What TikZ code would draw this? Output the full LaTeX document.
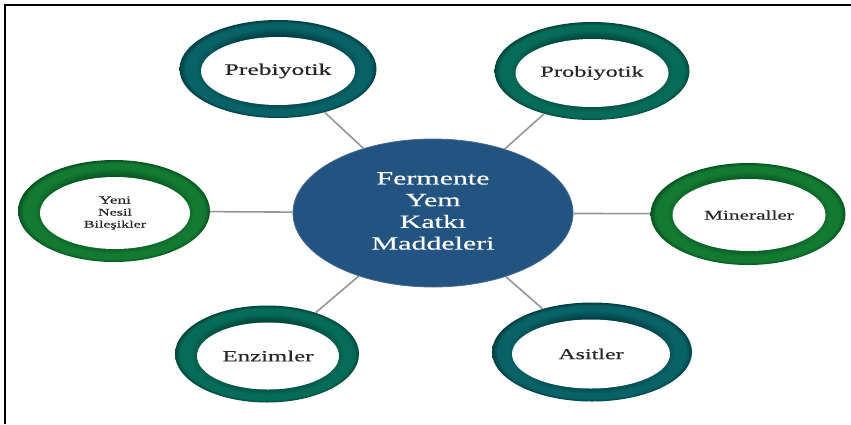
\documentclass[tikz,border=0pt]{standalone}
\usepackage{fontspec}
\setmainfont{Liberation Serif}
\newfontfamily\wideserif[FakeStretch=1.6,FakeBold=0.5]{Liberation Serif}
\usetikzlibrary{shapes.geometric}

\definecolor{hubblue}{RGB}{35,83,128}
\definecolor{hubedge}{RGB}{70,105,145}
\definecolor{linkgray}{RGB}{150,150,150}

% ring palettes: middle tone and edge tone
\definecolor{tealmid}{RGB}{8,98,102}
\definecolor{tealedge}{RGB}{0,62,68}
\definecolor{seamid}{RGB}{6,108,88}
\definecolor{seaedge}{RGB}{0,70,58}
\definecolor{grnmid}{RGB}{20,122,50}
\definecolor{grnedge}{RGB}{4,84,32}

\colorlet{ringmid}{tealmid}
\colorlet{ringedge}{tealedge}
\pgfdeclareradialshading[ringmid,ringedge]{ringshade}{\pgfpoint{0bp}{0bp}}{%
  color(0bp)=(ringedge); color(17bp)=(ringedge); color(21bp)=(ringmid);
  color(23.5bp)=(ringmid); color(25bp)=(ringedge); color(50bp)=(ringedge)}

\tikzset{
  ringpalette/.code 2 args={\colorlet{ringmid}{#1}\colorlet{ringedge}{#2}},
  ring/.style={ellipse, inner sep=0pt, shading=ringshade},
  hole/.style={ellipse, inner sep=0pt, fill=white, align=center,
    text=black!85, font=\wideserif},
  hub/.style={ellipse, inner sep=0pt, fill=hubblue, draw=hubedge,
    line width=0.8pt, minimum width=280pt, minimum height=148pt,
    text=white, align=center},
  link/.style={draw=linkgray, line width=1.6pt},
}

\begin{document}
\begin{tikzpicture}[x=1pt,y=-1pt]
  \useasboundingbox (0,0) rectangle (851,424);
  \fill[white] (0,0) rectangle (851,424);

  % frame on the top and left edges
  \draw[line width=2pt] (5,424) -- (5,5) -- (851,5);

  % central topic
  \node[hub] (hub) at (433,213) {};
  \node[text=white, align=center, font=\wideserif\fontsize{18.7}{21.7}\selectfont]
    (hubtext) at (433,211) {Fermente\\Yem\\Katkı\\Maddeleri};

  % outer rings
  \node[ring, ringpalette={tealmid}{tealedge}, minimum width=197pt, minimum height=98pt] (pre) at (278,69) {};
  \node[ring, ringpalette={seamid}{seaedge}, minimum width=195pt, minimum height=98pt] (pro) at (592,71) {};
  \node[ring, ringpalette={grnmid}{grnedge}, minimum width=192pt, minimum height=102pt] (yeni) at (114,211) {};
  \node[ring, ringpalette={grnmid}{grnedge}, minimum width=195pt, minimum height=102pt] (min) at (748,214) {};
  \node[ring, ringpalette={seamid}{seaedge}, minimum width=184pt, minimum height=97pt] (enz) at (267,354) {};
  \node[ring, ringpalette={tealmid}{tealedge}, minimum width=200pt, minimum height=99pt] (asi) at (592,352) {};

  % white centres with labels
  \node[hole, minimum width=154pt, minimum height=68pt] (preh) at (278,71)
    {\fontsize{16}{18}\selectfont Prebiyotik};
  \node[hole, minimum width=153pt, minimum height=68pt] (proh) at (592,73)
    {\fontsize{15.3}{18}\selectfont Probiyotik};
  \node[hole, minimum width=150pt, minimum height=72pt] (yenih) at (115,213)
    {\fontsize{10.8}{15}\selectfont Yeni\\Nesil\\Bileşikler};
  \node[hole, minimum width=153pt, minimum height=72pt] (minh) at (749,215)
    {\fontsize{13.3}{15}\selectfont Mineraller};
  \node[hole, minimum width=142pt, minimum height=67pt] (enzh) at (268,356)
    {\fontsize{15.5}{18}\selectfont Enzimler};
  \node[hole, minimum width=158pt, minimum height=69pt] (asih) at (591,354)
    {\fontsize{15}{18}\selectfont Asitler};

  % spokes from the hub to each ring
  \foreach \n in {pre,pro,yeni,min,enz,asi}
    \draw[link] (hub) -- (\n);
\end{tikzpicture}
\end{document}
